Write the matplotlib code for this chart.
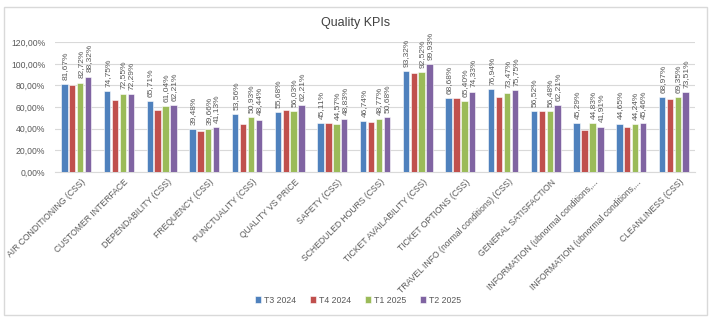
import numpy as np
import matplotlib
matplotlib.use('Agg')
import matplotlib.pyplot as plt
from matplotlib.patches import Rectangle
from matplotlib.ticker import FuncFormatter

plt.rcParams['font.family'] = ['Liberation Sans', 'DejaVu Sans']

categories = [
    'AIR CONDITIONING (CSS)', 'CUSTOMER INTERFACE', 'DEPENDABILITY (CSS)',
    'FREQUENCY (CSS)', 'PUNCTUALITY (CSS)', 'QUALITY VS PRICE', 'SAFETY (CSS)',
    'SCHEDULED HOURS (CSS)', 'TICKET AVAILABILITY (CSS)', 'TICKET OPTIONS (CSS)',
    'TRAVEL INFO (normal conditions) (CSS)', 'GENERAL SATISFACTION',
    'INFORMATION (ubnormal conditions,...', 'INFORMATION (ubnormal conditions,...',
    'CLEANLINESS (CSS)',
]
series_names = ['T3 2024', 'T4 2024', 'T1 2025', 'T2 2025']

t3_2024 = [81.67, 74.75, 65.71, 39.48, 53.56, 55.68, 45.11, 46.74, 93.32, 68.68,
           76.94, 56.52, 45.29, 44.65, 68.97]
t4_2024 = [80.7, 66.1, 56.9, 38.0, 44.5, 57.2, 44.9, 46.4, 91.8, 68.5,
           69.2, 56.6, 38.3, 42.0, 67.4]
t1_2025 = [82.72, 72.55, 61.04, 39.66, 50.93, 56.03, 44.57, 48.77, 92.52, 65.40,
           73.47, 56.48, 44.83, 44.24, 69.35]
t2_2025 = [88.32, 72.29, 62.21, 41.13, 48.44, 62.21, 48.83, 50.68, 99.93, 74.33,
           75.75, 62.21, 41.91, 45.46, 73.51]

colors = ['#4F81BD', '#C0504D', '#9BBB59', '#8064A2']
labelled = [True, False, True, True]

fig = plt.figure(figsize=(7.13, 3.23), dpi=100)
ax = fig.add_axes([0.077, 0.468, 0.898, 0.401])

# outer chart frame
fig.patches.append(Rectangle((4 / 713, 8 / 323), 703 / 713, 308 / 323,
                             transform=fig.transFigure, fill=False,
                             edgecolor='#D9D9D9', linewidth=1.0))

x = np.arange(len(categories))
pitch = 0.185
width = 0.15
text_col = '#595959'

for i, (vals, name, col) in enumerate(zip([t3_2024, t4_2024, t1_2025, t2_2025],
                                          series_names, colors)):
    pos = x + (i - 1.5) * pitch
    ax.bar(pos, np.array(vals) / 100, width, color=col, label=name,
           edgecolor='white', linewidth=0.4, zorder=3)
    if labelled[i]:
        for p, v in zip(pos, vals):
            ax.annotate(f'{v:.2f}%'.replace('.', ','), (p, v / 100),
                        xytext=(0.5, 3), textcoords='offset points',
                        rotation=90, ha='center', va='bottom',
                        fontsize=6, color=text_col)

ax.set_ylim(0, 1.2)
ax.set_xlim(-0.5, len(categories) - 0.5)
ax.set_yticks(np.arange(0, 1.21, 0.2))
ax.yaxis.set_major_formatter(FuncFormatter(lambda v, _: f'{v * 100:.2f}%'.replace('.', ',')))
ax.tick_params(axis='y', length=0, labelsize=6.2, labelcolor=text_col, pad=7)
ax.grid(axis='y', color='#D9D9D9', linewidth=0.8, zorder=0)

ax.set_xticks(x + 0.12)
ax.set_xticklabels(categories, rotation=45, ha='right', rotation_mode='anchor',
                   fontsize=6.2, color=text_col)
ax.tick_params(axis='x', length=0, pad=4)

for s in ['left', 'right', 'top']:
    ax.spines[s].set_visible(False)
ax.spines['bottom'].set_color('#D9D9D9')

fig.text(0.498, 0.93, 'Quality KPIs', ha='center', va='center',
         fontsize=9, color='#404040')

fig.legend(loc='center', bbox_to_anchor=(0.502, 0.071), ncol=4, frameon=False,
           fontsize=6.3, handlelength=0.7, handleheight=0.7, handletextpad=0.3,
           columnspacing=1.6, labelcolor=text_col)

fig.savefig('out.png', dpi=100)
